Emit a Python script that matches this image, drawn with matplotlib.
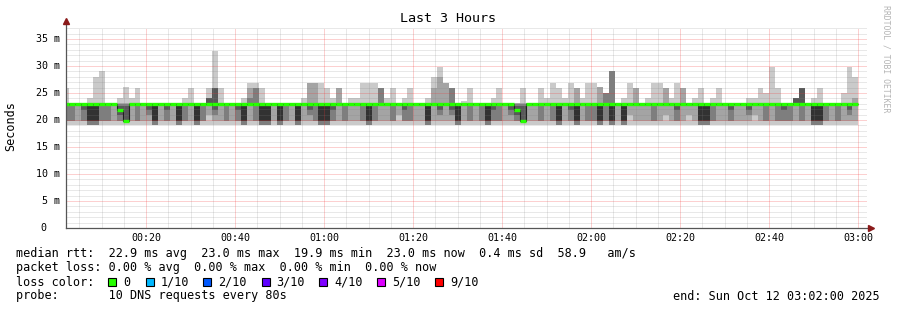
import matplotlib
matplotlib.use("Agg")
import matplotlib.pyplot as plt
import matplotlib.transforms as mtrans
from matplotlib.patches import Rectangle
import numpy as np

W, H = 897, 310

# probe bins of 80 s, first bin starts at 00:01:24 (minutes after midnight)
t_first = 1.4
step = 80 / 60.0

# sorted pings per bin (ms), p1 = fastest ... p10 = slowest
p10 = [25.9, 23.2, 23.2, 23.2, 24.0, 28.0, 29.1, 23.2, 23.2, 24.0,
       26.1, 24.0, 25.9, 23.2, 23.2, 23.2, 23.2, 23.2, 23.2, 23.2,
       24.0, 25.9, 23.2, 23.2, 25.9, 32.8, 25.9, 23.2, 23.2, 23.2,
       24.0, 26.9, 26.9, 25.9, 23.2, 23.2, 23.2, 23.2, 23.2, 23.2,
       24.0, 26.9, 26.9, 26.9, 25.9, 24.0, 25.9, 23.2, 24.0, 24.0,
       26.9, 26.9, 26.9, 25.9, 24.0, 25.9, 23.2, 24.0, 25.9, 23.2,
       23.2, 24.0, 28.0, 29.9, 26.9, 25.9, 23.2, 23.5, 25.9, 23.2,
       23.2, 23.2, 24.0, 25.9, 23.2, 23.2, 23.2, 25.9, 23.2, 23.2,
       25.9, 24.0, 26.9, 25.9, 24.0, 26.9, 25.9, 24.0, 26.9, 26.9,
       26.2, 25.0, 29.1, 23.2, 24.0, 26.9, 25.9, 23.2, 24.0, 26.9,
       26.9, 25.9, 24.0, 26.9, 25.9, 23.2, 24.0, 25.9, 23.2, 24.0,
       25.9, 23.2, 23.2, 23.2, 23.2, 24.0, 24.0, 25.9, 25.0, 29.9,
       25.9, 23.2, 23.2, 24.0, 25.9, 23.2, 24.0, 25.9, 23.2, 23.2,
       23.2, 25.0, 29.9, 28.0]
p9 = [23.2, 23.2, 23.2, 23.2, 23.2, 23.2, 23.2, 23.2, 23.2, 23.2,
      23.2, 23.2, 23.2, 23.2, 23.2, 23.2, 23.2, 23.2, 23.2, 23.2,
      23.2, 23.2, 23.2, 23.2, 24.0, 25.9, 23.2, 23.2, 23.2, 23.2,
      23.2, 25.9, 25.9, 23.2, 23.2, 23.2, 23.2, 23.2, 23.2, 23.2,
      23.2, 26.9, 26.9, 23.2, 23.2, 23.2, 25.9, 23.2, 23.2, 23.2,
      23.2, 23.2, 23.2, 25.9, 23.2, 23.2, 23.2, 23.2, 23.2, 23.2,
      23.2, 23.2, 25.9, 28.0, 26.9, 25.9, 23.2, 23.2, 23.2, 23.2,
      23.2, 23.2, 23.2, 23.2, 23.2, 23.2, 23.2, 23.2, 23.2, 23.2,
      23.2, 23.2, 23.2, 23.2, 23.2, 23.2, 25.9, 23.2, 23.2, 23.2,
      26.2, 25.0, 29.1, 23.2, 23.2, 23.2, 25.9, 23.2, 23.2, 23.2,
      23.2, 25.9, 23.2, 23.2, 25.9, 23.2, 23.2, 23.2, 23.2, 23.2,
      23.2, 23.2, 23.2, 23.2, 23.2, 23.2, 23.2, 23.2, 23.2, 23.2,
      23.2, 23.2, 23.2, 24.0, 25.9, 23.2, 23.2, 23.2, 23.2, 23.2,
      23.2, 23.2, 23.2, 24.0]
p8 = [23.1, 23.1, 23.1, 23.1, 23.1, 23.1, 23.1, 23.1, 23.1, 23.0,
      23.0, 23.1, 23.1, 23.1, 23.1, 23.1, 23.1, 23.1, 23.1, 23.1,
      23.1, 23.1, 23.1, 23.1, 24.0, 25.9, 23.1, 23.1, 23.1, 23.1,
      23.1, 24.0, 25.9, 23.1, 23.1, 23.1, 23.1, 23.1, 23.1, 23.1,
      23.1, 23.1, 23.1, 23.1, 23.1, 23.1, 23.1, 23.1, 23.1, 23.1,
      23.1, 23.1, 23.1, 25.9, 23.1, 23.1, 23.1, 23.1, 23.1, 23.1,
      23.1, 23.1, 23.1, 23.1, 23.1, 25.9, 23.1, 23.1, 23.1, 23.1,
      23.1, 23.1, 23.1, 23.1, 23.1, 23.1, 23.0, 23.0, 23.1, 23.1,
      23.1, 23.1, 23.1, 23.1, 23.1, 23.1, 23.1, 23.1, 23.1, 23.1,
      23.1, 25.0, 29.1, 23.1, 23.1, 23.1, 23.1, 23.1, 23.1, 23.1,
      23.1, 23.1, 23.1, 23.1, 23.1, 23.1, 23.1, 23.1, 23.1, 23.1,
      23.1, 23.1, 23.1, 23.1, 23.1, 23.1, 23.1, 23.1, 23.1, 23.1,
      23.1, 23.1, 23.1, 24.0, 25.9, 23.1, 23.1, 23.1, 23.1, 23.1,
      23.1, 23.1, 23.1, 23.1]
p7 = [23.05, 23.05, 23.05, 23.05, 23.05, 23.05, 23.05, 23.05, 23.05, 22.6,
      22.6, 23.05, 23.05, 23.05, 23.05, 23.05, 23.05, 23.05, 23.05, 23.05,
      23.05, 23.05, 23.05, 23.05, 24.0, 25.9, 23.05, 23.05, 23.05, 23.05,
      23.05, 23.05, 23.05, 23.05, 23.05, 23.05, 23.05, 23.05, 23.05, 23.05,
      23.05, 23.05, 23.05, 23.05, 23.05, 23.05, 23.05, 23.05, 23.05, 23.05,
      23.05, 23.05, 23.05, 23.05, 23.05, 23.05, 23.05, 23.05, 23.05, 23.05,
      23.05, 23.05, 23.05, 23.05, 23.05, 23.05, 23.05, 23.05, 23.05, 23.05,
      23.05, 23.05, 23.05, 23.05, 23.05, 23.05, 22.6, 22.6, 23.05, 23.05,
      23.05, 23.05, 23.05, 23.05, 23.05, 23.05, 23.05, 23.05, 23.05, 23.05,
      23.05, 23.05, 23.05, 23.05, 23.05, 23.05, 23.05, 23.05, 23.05, 23.05,
      23.05, 23.05, 23.05, 23.05, 23.05, 23.05, 23.05, 23.05, 23.05, 23.05,
      23.05, 23.05, 23.05, 23.05, 23.05, 23.05, 23.05, 23.05, 23.05, 23.05,
      23.05, 23.05, 23.05, 24.0, 25.9, 23.05, 23.05, 23.05, 23.05, 23.05,
      23.05, 23.05, 23.05, 23.05]
p6 = [23.0, 23.0, 23.0, 23.0, 23.0, 23.0, 23.0, 23.0, 23.0, 21.9,
      19.9, 23.0, 23.0, 23.0, 23.0, 23.0, 23.0, 23.0, 23.0, 23.0,
      23.0, 23.0, 23.0, 23.0, 23.0, 23.0, 23.0, 23.0, 23.0, 23.0,
      23.0, 23.0, 23.0, 23.0, 23.0, 23.0, 23.0, 23.0, 23.0, 23.0,
      23.0, 23.0, 23.0, 23.0, 23.0, 23.0, 23.0, 23.0, 23.0, 23.0,
      23.0, 23.0, 23.0, 23.0, 23.0, 23.0, 23.0, 23.0, 23.0, 23.0,
      23.0, 23.0, 23.0, 23.0, 23.0, 23.0, 23.0, 23.0, 23.0, 23.0,
      23.0, 23.0, 23.0, 23.0, 23.0, 23.0, 21.9, 19.9, 23.0, 23.0,
      23.0, 23.0, 23.0, 23.0, 23.0, 23.0, 23.0, 23.0, 23.0, 23.0,
      23.0, 23.0, 23.0, 23.0, 23.0, 23.0, 23.0, 23.0, 23.0, 23.0,
      23.0, 23.0, 23.0, 23.0, 23.0, 23.0, 23.0, 23.0, 23.0, 23.0,
      23.0, 23.0, 23.0, 23.0, 23.0, 23.0, 23.0, 23.0, 23.0, 23.0,
      23.0, 23.0, 23.0, 23.0, 23.0, 23.0, 23.0, 23.0, 23.0, 23.0,
      23.0, 23.0, 23.0, 23.0]
p5 = [22.8, 22.8, 22.8, 22.6, 19.85, 19.85, 22.8, 22.8, 22.8, 21.8,
      19.85, 22.8, 22.8, 22.8, 22.6, 19.85, 22.8, 22.6, 22.8, 19.85,
      22.8, 22.8, 19.85, 22.8, 22.8, 22.6, 22.8, 22.8, 22.8, 22.6,
      19.85, 22.8, 22.8, 19.85, 19.85, 22.8, 19.85, 22.8, 22.8, 19.85,
      22.8, 22.6, 22.8, 19.85, 19.85, 22.6, 22.8, 22.8, 22.8, 22.8,
      22.8, 19.85, 22.8, 22.8, 22.8, 22.8, 22.8, 22.6, 22.8, 22.8,
      22.8, 19.85, 22.8, 22.6, 22.8, 22.6, 19.85, 22.8, 22.8, 22.8,
      22.8, 19.85, 22.6, 22.8, 22.8, 22.6, 21.8, 19.85, 22.8, 22.8,
      22.8, 22.8, 22.8, 19.85, 22.8, 22.6, 19.85, 22.8, 22.8, 22.8,
      19.85, 22.8, 19.85, 22.8, 19.85, 22.8, 22.8, 22.8, 22.8, 22.8,
      22.8, 22.8, 22.8, 22.6, 22.8, 22.8, 22.8, 19.85, 19.85, 22.8,
      22.8, 22.8, 22.6, 22.8, 22.8, 22.6, 22.8, 22.8, 22.8, 22.8,
      22.8, 22.6, 22.8, 22.8, 22.8, 22.8, 19.85, 19.85, 22.8, 22.8,
      22.8, 22.8, 22.6, 22.8]
p4 = [22.6, 22.6, 22.7, 21.85, 19.8, 19.8, 22.6, 22.6, 22.7, 20.9,
      19.8, 22.7, 22.6, 22.7, 21.85, 19.8, 22.7, 21.85, 22.7, 19.8,
      22.6, 22.7, 19.8, 22.6, 22.7, 21.85, 22.7, 22.6, 22.7, 21.85,
      19.8, 22.7, 22.6, 19.8, 19.8, 22.7, 19.8, 22.6, 22.7, 19.8,
      22.7, 21.85, 22.6, 19.8, 19.8, 21.85, 22.7, 22.6, 22.7, 22.7,
      22.6, 19.8, 22.6, 22.7, 22.7, 22.6, 22.7, 21.85, 22.6, 22.7,
      22.7, 19.8, 22.7, 21.85, 22.7, 21.85, 19.8, 22.7, 22.6, 22.7,
      22.6, 19.8, 21.85, 22.6, 22.7, 21.85, 20.9, 19.8, 22.7, 22.7,
      22.6, 22.7, 22.6, 19.8, 22.7, 21.85, 19.8, 22.7, 22.6, 22.6,
      19.8, 22.6, 19.8, 22.7, 19.8, 22.7, 22.7, 22.7, 22.7, 22.6,
      22.7, 22.7, 22.7, 21.85, 22.7, 22.7, 22.7, 19.8, 19.8, 22.6,
      22.7, 22.7, 21.85, 22.7, 22.7, 21.85, 22.7, 22.7, 22.6, 22.7,
      22.6, 21.85, 22.6, 22.7, 22.6, 22.7, 19.8, 19.8, 22.6, 22.7,
      22.6, 22.7, 21.85, 22.7]
p3 = [19.8, 19.8, 22.6, 19.8, 19.0, 19.0, 19.8, 19.8, 22.6, 19.8,
      19.8, 22.6, 19.8, 22.6, 20.9, 19.0, 22.6, 19.8, 22.6, 19.0,
      19.8, 22.6, 19.0, 19.8, 22.6, 20.9, 22.6, 19.8, 22.6, 19.8,
      19.0, 22.6, 19.8, 19.0, 19.0, 22.6, 19.0, 19.8, 22.6, 19.0,
      22.6, 20.9, 19.8, 19.0, 19.0, 19.8, 22.6, 19.8, 22.6, 22.6,
      19.8, 19.0, 19.8, 22.6, 22.6, 19.8, 22.6, 19.8, 19.8, 22.6,
      22.6, 19.0, 22.6, 20.9, 22.6, 20.9, 19.0, 22.6, 19.8, 22.6,
      19.8, 19.0, 19.8, 19.8, 22.6, 20.9, 19.8, 19.8, 22.6, 22.6,
      19.8, 22.6, 19.8, 19.0, 22.6, 19.8, 19.0, 22.6, 19.8, 19.8,
      19.0, 19.8, 19.0, 22.6, 19.0, 22.6, 22.6, 22.6, 22.6, 19.8,
      22.6, 22.6, 22.6, 19.8, 22.6, 22.6, 22.6, 19.0, 19.0, 19.8,
      22.6, 22.6, 19.8, 22.6, 22.6, 20.9, 22.6, 22.6, 19.8, 22.6,
      19.8, 19.8, 19.8, 22.6, 19.8, 22.6, 19.0, 19.0, 19.8, 22.6,
      19.8, 22.6, 20.9, 22.6]
p2 = [19.8, 19.8, 19.8, 19.8, 19.0, 19.0, 19.8, 19.8, 19.8, 19.8,
      19.8, 19.8, 19.8, 19.8, 19.8, 19.0, 19.8, 19.8, 19.8, 19.0,
      19.8, 19.8, 19.0, 19.8, 20.9, 19.8, 19.8, 19.8, 19.8, 19.8,
      19.0, 19.8, 19.8, 19.0, 19.0, 19.8, 19.0, 19.8, 19.8, 19.0,
      19.8, 19.8, 19.8, 19.0, 19.0, 19.8, 19.8, 19.8, 19.8, 19.8,
      19.8, 19.0, 19.8, 19.8, 19.8, 19.8, 20.9, 19.8, 19.8, 19.8,
      19.8, 19.0, 19.8, 19.8, 19.8, 19.8, 19.0, 19.8, 19.8, 19.8,
      19.8, 19.0, 19.8, 19.8, 19.8, 19.8, 19.8, 19.8, 19.8, 19.8,
      19.8, 19.8, 19.8, 19.0, 19.8, 19.8, 19.0, 19.8, 19.8, 19.8,
      19.0, 19.8, 19.0, 19.8, 19.0, 20.9, 19.8, 19.8, 19.8, 19.8,
      19.8, 20.9, 19.8, 19.8, 19.8, 20.9, 19.8, 19.0, 19.0, 19.8,
      19.8, 19.8, 19.8, 19.8, 19.8, 19.8, 20.9, 19.8, 19.8, 19.8,
      19.8, 19.8, 19.8, 19.8, 19.8, 19.8, 19.0, 19.0, 19.8, 19.8,
      19.8, 19.8, 19.8, 19.8]
p1 = [19.0, 19.0, 19.0, 19.0, 19.0, 19.0, 19.0, 19.0, 19.0, 19.0,
      19.0, 19.0, 19.0, 19.0, 19.0, 19.0, 19.0, 19.0, 19.0, 19.0,
      19.0, 19.0, 19.0, 19.0, 19.0, 19.0, 19.0, 19.0, 19.0, 19.0,
      19.0, 19.0, 19.0, 19.0, 19.0, 19.0, 19.0, 19.0, 19.0, 19.0,
      19.0, 19.0, 19.0, 19.0, 19.0, 19.0, 19.0, 19.0, 19.0, 19.0,
      19.0, 19.0, 19.0, 19.0, 19.0, 19.0, 19.0, 19.0, 19.0, 19.0,
      19.0, 19.0, 19.0, 19.0, 19.0, 19.0, 19.0, 19.0, 19.0, 19.0,
      19.0, 19.0, 19.0, 19.0, 19.0, 19.0, 19.0, 19.0, 19.0, 19.0,
      19.0, 19.0, 19.0, 19.0, 19.0, 19.0, 19.0, 19.0, 19.0, 19.0,
      19.0, 19.0, 19.0, 19.0, 19.0, 19.0, 19.0, 19.0, 19.0, 19.0,
      19.0, 19.0, 19.0, 19.0, 19.0, 19.0, 19.0, 19.0, 19.0, 19.0,
      19.0, 19.0, 19.0, 19.0, 19.0, 19.0, 19.0, 19.0, 19.0, 19.0,
      19.0, 19.0, 19.0, 19.0, 19.0, 19.0, 19.0, 19.0, 19.0, 19.0,
      19.0, 19.0, 19.0, 19.0]
median = [23.0, 23.0, 23.0, 23.0, 23.0, 23.0, 23.0, 23.0, 23.0, 21.85,
          19.9, 23.0, 23.0, 23.0, 23.0, 23.0, 23.0, 23.0, 23.0, 23.0,
          23.0, 23.0, 23.0, 23.0, 23.0, 23.0, 23.0, 23.0, 23.0, 23.0,
          23.0, 23.0, 23.0, 23.0, 23.0, 23.0, 23.0, 23.0, 23.0, 23.0,
          23.0, 23.0, 23.0, 23.0, 23.0, 23.0, 23.0, 23.0, 23.0, 23.0,
          23.0, 23.0, 23.0, 23.0, 23.0, 23.0, 23.0, 23.0, 23.0, 23.0,
          23.0, 23.0, 23.0, 23.0, 23.0, 23.0, 23.0, 23.0, 23.0, 23.0,
          23.0, 23.0, 23.0, 23.0, 23.0, 23.0, 21.85, 19.9, 23.0, 23.0,
          23.0, 23.0, 23.0, 23.0, 23.0, 23.0, 23.0, 23.0, 23.0, 23.0,
          23.0, 23.0, 23.0, 23.0, 23.0, 23.0, 23.0, 23.0, 23.0, 23.0,
          23.0, 23.0, 23.0, 23.0, 23.0, 23.0, 23.0, 23.0, 23.0, 23.0,
          23.0, 23.0, 23.0, 23.0, 23.0, 23.0, 23.0, 23.0, 23.0, 23.0,
          23.0, 23.0, 23.0, 23.0, 23.0, 23.0, 23.0, 23.0, 23.0, 23.0,
          23.0, 23.0, 23.0, 23.0]

loss_labels = ["0", "1/10", "2/10", "3/10", "4/10", "5/10", "9/10"]
loss_colors = ["#26ff00", "#00b8ff", "#0059ff", "#5e00ff", "#7e00ff", "#dd00ff", "#ff0000"]
smoke_grays = ["#cacaca", "#a4a4a4", "#7e7e7e", "#585858", "#323232"]

title = "Last 3 Hours"
stats_lines = [
    "median rtt:  22.9 ms avg  23.0 ms max  19.9 ms min  23.0 ms now  0.4 ms sd  58.9   am/s",
    "packet loss: 0.00 % avg  0.00 % max  0.00 % min  0.00 % now",
]
probe_line = "probe:       10 DNS requests every 80s"
end_line = "end: Sun Oct 12 03:02:00 2025"

plt.rcParams["font.family"] = "DejaVu Sans Mono"

fig = plt.figure(figsize=(W / 100, H / 100), dpi=100)
fig.patch.set_facecolor("white")
ax = fig.add_axes([66 / W, 82 / H, 801 / W, 199.8 / H])
ax.set_xlim(2, 182)
ax.set_ylim(0, 37)
for s in ax.spines.values():
    s.set_visible(False)
ax.set_xticks([])
ax.set_yticks([])

n = len(median)
edges = t_first + step * np.arange(n + 1)
lows = [p1, p2, p3, p4, p5]
highs = [p10, p9, p8, p7, p6]
for lo, hi, c in zip(lows, highs, smoke_grays):
    ax.stairs(hi, edges, baseline=lo, fill=True, color=c, lw=0, zorder=1)

# dotted grid, drawn over the smoke like rrdtool does
dots = (0, (1, 1))
minor_c = (0.5, 0.5, 0.5, 0.36)
major_c = (0.95, 0.2, 0.2, 0.45)
for v in range(1, 38):
    if v % 5:
        ax.axhline(v, color=minor_c, lw=0.72, ls=dots, zorder=2)
for m in range(5, 182, 5):
    if m % 20:
        ax.axvline(m, color=minor_c, lw=0.72, ls=dots, zorder=2)
for v in range(5, 36, 5):
    ax.axhline(v, color=major_c, lw=0.72, ls=dots, zorder=2)
for m in range(20, 181, 20):
    ax.axvline(m, color=major_c, lw=0.72, ls=dots, zorder=2)

# median: dark thin line plus the loss coloured thick segments
ax.stairs(median, edges, baseline=None, color="#202020", lw=0.8, zorder=4)
ax.hlines(median, edges[:-1], edges[1:], color=loss_colors[0], lw=2.4, zorder=5, capstyle="butt")

# axes with arrows
axis_c = "#555555"
arrow_c = "#8b1a1a"
ax.plot([2, 2], [0, 38.0], color=axis_c, lw=0.9, clip_on=False, zorder=6)
ax.plot([2, 182.5], [0, 0], color=axis_c, lw=0.9, clip_on=False, zorder=6)
ax.plot([2], [38.3], marker="^", ms=4.5, color=arrow_c, clip_on=False, zorder=7)
ax.plot([182.9], [0], marker=">", ms=4.5, color=arrow_c, clip_on=False, zorder=7)

# tick labels
ytr = mtrans.blended_transform_factory(fig.transFigure, ax.transData)
for v in range(5, 36, 5):
    ax.text(60 / W, v, f"{v} m", transform=ytr, ha="right", va="center", fontsize=7.2)
ax.text(46.5 / W, 0, "0", transform=ytr, ha="right", va="center", fontsize=7.2)
xtr = mtrans.blended_transform_factory(ax.transData, fig.transFigure)
for m in range(20, 181, 20):
    ax.text(m, 1 - 238 / H, f"{m // 60:02d}:{m % 60:02d}", transform=xtr,
            ha="center", va="center", fontsize=7.2)

fig.text(448 / W, 1 - 19 / H, title, ha="center", va="center", fontsize=9.6)
fig.text(11 / W, 1 - 126 / H, "Seconds", rotation=90, ha="center", va="center", fontsize=8.5)
fig.text(886 / W, 1 - 59 / H, "RRDTOOL / TOBI OETIKER", rotation=270, ha="center",
         va="center", fontsize=5.9, color="#b4b4b4")

# legend block
for k, line in enumerate(stats_lines):
    fig.text(16 / W, 1 - (254 + 14 * k) / H, line, ha="left", va="center", fontsize=8.5)
fig.text(16 / W, 1 - 282 / H, "loss color:", ha="left", va="center", fontsize=8.5)
box_x = [108, 146, 203, 261.5, 319, 377, 435]
for bx, lab, c in zip(box_x, loss_labels, loss_colors):
    fig.add_artist(Rectangle((bx / W, 1 - 286 / H), 8 / W, 8 / H, transform=fig.transFigure,
                             facecolor=c, edgecolor="black", lw=0.8))
    fig.text((bx + 15) / W, 1 - 282 / H, lab, ha="left", va="center", fontsize=8.5)
fig.text(16 / W, 1 - 296 / H, probe_line, ha="left", va="center", fontsize=8.5)
fig.text(880 / W, 1 - 296 / H, end_line, ha="right", va="center", fontsize=8.5)

fig.savefig("out.png", dpi=100, facecolor="white")
